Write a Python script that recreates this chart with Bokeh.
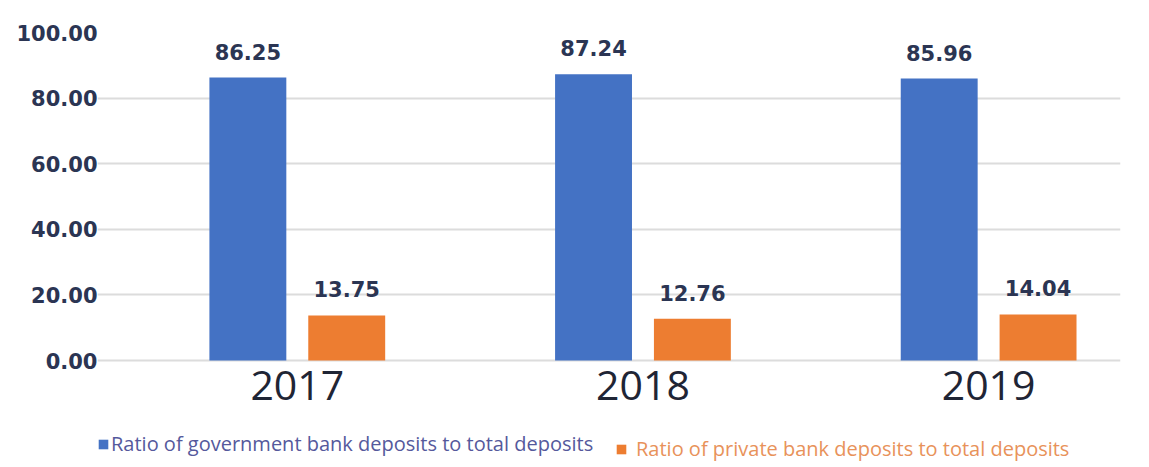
from bokeh.plotting import figure
from bokeh.models import (ColumnDataSource, Range1d, FixedTicker, NumeralTickFormatter,
                          Legend, LegendItem, LabelSet)
from bokeh.transform import dodge
from bokeh.core.properties import value
from bokeh.embed import file_html
from bokeh.resources import INLINE

# ---- data ----
years = [2017, 2018, 2019]
year_labels = ["2017", "2018", "2019"]
government = [86.25, 87.24, 85.96]
private = [13.75, 12.76, 14.04]
series_names = ["Ratio of government bank deposits to total deposits",
                "Ratio of private bank deposits to total deposits"]
y_ticks = [0, 20, 40, 60, 80, 100]

BLUE = "#4472C4"
ORANGE = "#ED7D31"
NAVY = "#2b3553"

src = ColumnDataSource(dict(
    year=years,
    zero=[0] * len(years),
    label=year_labels,
    gov=government,
    priv=private,
    gov_txt=[f"{v:.2f}" for v in government],
    priv_txt=[f"{v:.2f}" for v in private],
))

p = figure(width=1145, height=467, output_backend="svg", toolbar_location=None,
           x_axis_type=None,
           x_range=Range1d(2016.422, 2019.3815), y_range=Range1d(-32.6, 100),
           min_border_left=97, min_border_right=25, min_border_top=32, min_border_bottom=0)
p.outline_line_color = None
p.background_fill_color = "white"
p.border_fill_color = "white"

bw = 0.2225
off = 0.143
r_gov = p.vbar(x=dodge("year", -off, range=p.x_range), top="gov", width=bw, bottom=0,
               source=src, fill_color=BLUE, line_color=None)
r_priv = p.vbar(x=dodge("year", off, range=p.x_range), top="priv", width=bw, bottom=0,
                source=src, fill_color=ORANGE, line_color=None)

for col, d in (("gov", -off), ("priv", off)):
    p.add_layout(LabelSet(x=dodge("year", d, range=p.x_range), y=col, text=col + "_txt",
                          source=src, text_align="center", text_baseline="alphabetic",
                          y_offset=18, text_font=value("DejaVu Sans"), text_font_style="bold",
                          text_font_size="21px", text_color=NAVY))

# category labels under the bars
p.add_layout(LabelSet(x="year", y="zero", text="label", source=src, text_align="center",
                      text_baseline="top", y_offset=-10, text_font=value("Open Sans"),
                      text_font_size="41px", text_color="#1f2535"))

# y axis
p.yaxis.ticker = FixedTicker(ticks=y_ticks)
p.yaxis.formatter = NumeralTickFormatter(format="0.00")
p.yaxis.major_label_text_font = "DejaVu Sans"
p.yaxis.major_label_text_font_style = "bold"
p.yaxis.major_label_text_font_size = "21px"
p.yaxis.major_label_text_color = NAVY
p.yaxis.major_label_standoff = 0
p.yaxis.major_tick_out = 0
p.yaxis.major_tick_in = 0
p.yaxis.minor_tick_out = 0
p.yaxis.axis_line_color = None
p.yaxis.major_tick_line_color = None
p.yaxis.minor_tick_line_color = None

p.ygrid.grid_line_color = "#dcdcdc"
p.ygrid.grid_line_width = 2
p.ygrid.bounds = (2016.5, 2019.38)

def make_legend(label, renderer, color, loc, standoff):
    return Legend(items=[LegendItem(label=label, renderers=[renderer])], location=loc,
                  orientation="horizontal", padding=0, margin=0, spacing=0,
                  glyph_width=12, glyph_height=12, label_standoff=standoff,
                  label_text_font="Open Sans", label_text_font_size="20px",
                  label_text_color=color, label_height=24,
                  background_fill_alpha=0, border_line_color=None)

p.add_layout(make_legend(series_names[0], r_gov, "#55599c", (0, 10), 2), "center")
p.add_layout(make_legend(series_names[1], r_priv, "#e8925a", (518, 5), 9), "center")

open("out.html", "w").write(file_html(p, INLINE))
